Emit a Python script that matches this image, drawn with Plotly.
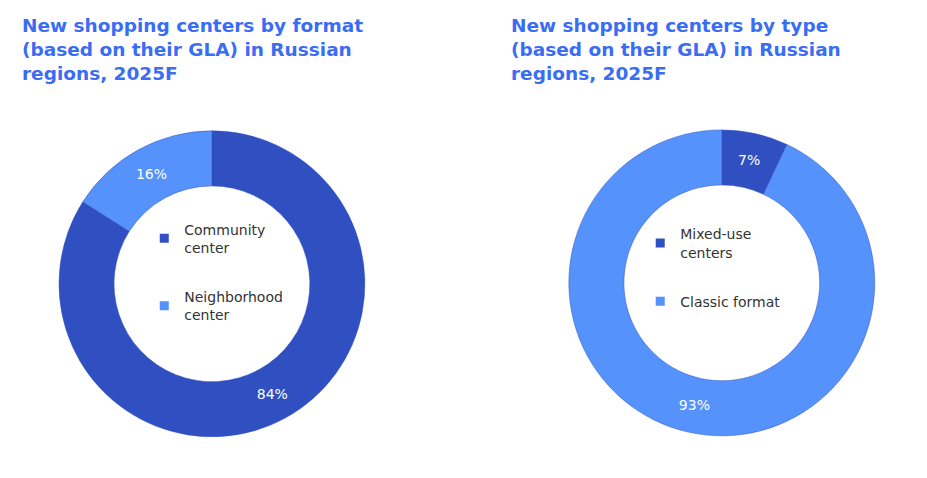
import plotly.graph_objects as go

left_labels = ["Community<br>center", "Neighborhood<br>center"]
left_values = [84, 16]
right_labels = ["Mixed-use<br>centers", "Classic format"]
right_values = [7, 93]
titles = ["New shopping centers by format<br>(based on their GLA) in Russian<br>regions, 2025F",
          "New shopping centers by type<br>(based on their GLA) in Russian<br>regions, 2025F"]

dark, light = "#3050c2", "#5592fb"
colors = [dark, light]
fig = go.Figure()
common = dict(hole=0.64, sort=False, direction="clockwise", rotation=0, showlegend=False,
              texttemplate="%{percent:.0%}", textposition="inside",
              insidetextfont=dict(color="white", size=14, family="Verdana, DejaVu Sans"),
              marker=dict(colors=colors, line=dict(color=dark, width=0.5)),
              hoverinfo="label+percent")
fig.add_trace(go.Pie(labels=left_labels, values=left_values, domain=dict(x=[0.055, 0.385], y=[0.103, 0.743]), **common))
fig.add_trace(go.Pie(labels=right_labels, values=right_values, domain=dict(x=[0.605, 0.935], y=[0.105, 0.745]), **common))
for lg, labels in [("legend", left_labels), ("legend2", right_labels)]:
    for i, lab in enumerate(labels):
        fig.add_trace(go.Scatter(x=[None], y=[None], mode="markers", name=lab, legend=lg,
                                 legendgroup=f"{lg}{i}",
                                 marker=dict(symbol="square", size=9, color=colors[i])))
leg = dict(font=dict(size=14, family="Verdana, DejaVu Sans", color="#333"), bgcolor="rgba(0,0,0,0)",
           itemwidth=30, tracegroupgap=28, yanchor="top", xanchor="left")
fig.update_layout(
    width=927, height=478, margin=dict(l=0, r=0, t=0, b=0), paper_bgcolor="white", plot_bgcolor="white",
    xaxis=dict(visible=False), yaxis=dict(visible=False),
    legend=dict(x=0.147, y=0.57, **leg),
    legend2=dict(x=0.682, y=0.56, **leg),
)
for x, t in zip([0.013, 0.54], titles):
    fig.add_annotation(text=t, x=x, y=0.99, xref="paper", yref="paper", xanchor="left", yanchor="top",
                       showarrow=False, align="left",
                       font=dict(size=18.5, family="Verdana, DejaVu Sans", color="#3a6cf4", weight="bold"))
fig.write_html("out.html")
